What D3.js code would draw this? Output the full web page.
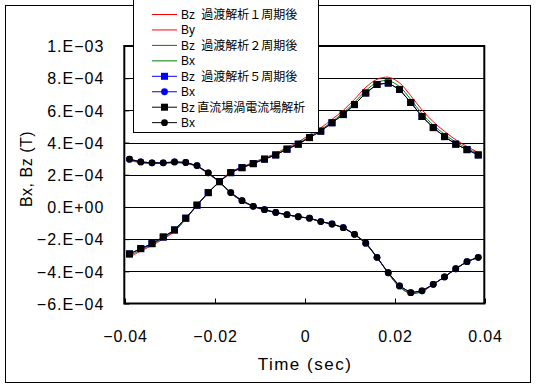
<!DOCTYPE html>
<html><head><meta charset="utf-8">
<script src="https://cdn.jsdelivr.net/npm/d3@7"></script>
<style>body{margin:0;background:#fff} svg{display:block}</style>
</head><body><svg id="c" width="536" height="389"></svg>
<script>
// ---- data ----
const time = [-0.039, -0.0365, -0.034, -0.0315, -0.029, -0.0265, -0.024, -0.0215, -0.019, -0.0165,
  -0.014, -0.0115, -0.009, -0.0065, -0.004, -0.0015, 0.001, 0.0035, 0.006, 0.0085,
  0.011, 0.0135, 0.016, 0.0185, 0.021, 0.0235, 0.026, 0.0285, 0.031, 0.0335, 0.036, 0.0385];

// 過渡解析1周期後 (red)
const bzTrans1 = [-3.11e-4, -2.74e-4, -2.39e-4, -1.99e-4, -1.52e-4, -0.75e-4, 0.09e-4, 0.90e-4, 1.57e-4, 2.18e-4,
  2.49e-4, 2.77e-4, 3.05e-4, 3.33e-4, 3.70e-4, 4.04e-4, 4.48e-4, 4.91e-4, 5.44e-4, 6.00e-4,
  6.69e-4, 7.43e-4, 7.93e-4, 8.06e-4, 7.71e-4, 6.91e-4, 6.03e-4, 5.29e-4, 4.70e-4, 4.17e-4, 3.76e-4, 3.38e-4];
const byTrans1 = [2.90e-4, 2.74e-4, 2.70e-4, 2.71e-4, 2.74e-4, 2.70e-4, 2.50e-4, 2.06e-4, 1.52e-4, 0.84e-4,
  0.36e-4, 0.02e-4, -0.19e-4, -0.36e-4, -0.50e-4, -0.62e-4, -0.71e-4, -0.92e-4, -1.07e-4, -1.30e-4,
  -1.70e-4, -2.24e-4, -3.13e-4, -4.12e-4, -4.98e-4, -5.38e-4, -5.26e-4, -4.81e-4, -4.35e-4, -3.84e-4, -3.40e-4, -3.13e-4];

// 過渡解析2周期後 (green)
const bzTrans2 = [-3.02e-4, -2.67e-4, -2.33e-4, -1.93e-4, -1.47e-4, -0.72e-4, 0.10e-4, 0.90e-4, 1.57e-4, 2.15e-4,
  2.46e-4, 2.72e-4, 3.00e-4, 3.27e-4, 3.63e-4, 3.95e-4, 4.38e-4, 4.79e-4, 5.31e-4, 5.85e-4,
  6.50e-4, 7.22e-4, 7.74e-4, 7.84e-4, 7.48e-4, 6.68e-4, 5.80e-4, 5.09e-4, 4.52e-4, 4.03e-4, 3.66e-4, 3.30e-4];
const bxTrans2 = [2.93e-4, 2.77e-4, 2.72e-4, 2.72e-4, 2.77e-4, 2.73e-4, 2.53e-4, 2.09e-4, 1.55e-4, 0.86e-4,
  0.37e-4, 0.03e-4, -0.18e-4, -0.35e-4, -0.49e-4, -0.61e-4, -0.70e-4, -0.91e-4, -1.06e-4, -1.29e-4,
  -1.70e-4, -2.24e-4, -3.13e-4, -4.11e-4, -4.95e-4, -5.36e-4, -5.24e-4, -4.81e-4, -4.35e-4, -3.84e-4, -3.40e-4, -3.13e-4];

// 過渡解析5周期後 (blue)
const bzTrans5 = [-2.92e-4, -2.59e-4, -2.28e-4, -1.87e-4, -1.43e-4, -0.70e-4, 0.11e-4, 0.89e-4, 1.57e-4, 2.13e-4,
  2.44e-4, 2.69e-4, 2.97e-4, 3.23e-4, 3.59e-4, 3.90e-4, 4.31e-4, 4.71e-4, 5.23e-4, 5.74e-4,
  6.36e-4, 7.08e-4, 7.61e-4, 7.70e-4, 7.30e-4, 6.49e-4, 5.62e-4, 4.93e-4, 4.37e-4, 3.90e-4, 3.56e-4, 3.23e-4];
const bxTrans5 = [2.97e-4, 2.80e-4, 2.74e-4, 2.74e-4, 2.80e-4, 2.76e-4, 2.57e-4, 2.12e-4, 1.57e-4, 0.89e-4,
  0.39e-4, 0.04e-4, -0.17e-4, -0.34e-4, -0.48e-4, -0.61e-4, -0.70e-4, -0.91e-4, -1.06e-4, -1.29e-4,
  -1.70e-4, -2.25e-4, -3.13e-4, -4.09e-4, -4.91e-4, -5.33e-4, -5.21e-4, -4.81e-4, -4.35e-4, -3.84e-4, -3.40e-4, -3.13e-4];

// 直流場渦電流場解析 (black)
const bzDC = [-2.92e-4, -2.59e-4, -2.28e-4, -1.87e-4, -1.43e-4, -0.70e-4, 0.11e-4, 0.89e-4, 1.57e-4, 2.13e-4,
  2.44e-4, 2.69e-4, 2.97e-4, 3.23e-4, 3.59e-4, 3.90e-4, 4.31e-4, 4.71e-4, 5.23e-4, 5.74e-4,
  6.36e-4, 7.08e-4, 7.61e-4, 7.70e-4, 7.30e-4, 6.49e-4, 5.62e-4, 4.93e-4, 4.37e-4, 3.90e-4, 3.56e-4, 3.23e-4];
const bxDC = [2.97e-4, 2.80e-4, 2.74e-4, 2.74e-4, 2.80e-4, 2.76e-4, 2.57e-4, 2.12e-4, 1.57e-4, 0.89e-4,
  0.39e-4, 0.04e-4, -0.17e-4, -0.34e-4, -0.48e-4, -0.61e-4, -0.70e-4, -0.91e-4, -1.06e-4, -1.29e-4,
  -1.70e-4, -2.25e-4, -3.13e-4, -4.09e-4, -4.91e-4, -5.33e-4, -5.21e-4, -4.81e-4, -4.35e-4, -3.84e-4, -3.40e-4, -3.13e-4];

const xTickValues = [-0.04, -0.02, 0, 0.02, 0.04];
const xTickLabels = ["-0.04", "-0.02", "0", "0.02", "0.04"];
const yTickValues = [-6e-4, -4e-4, -2e-4, 0, 2e-4, 4e-4, 6e-4, 8e-4, 1e-3];
const yTickLabels = ["-6.E-04", "-4.E-04", "-2.E-04", "0.E+00", "2.E-04", "4.E-04", "6.E-04", "8.E-04", "1.E-03"];
const xTitle = "Time (sec)";
const yTitle = "Bx, Bz (T)";

const legendComp = ["Bz", "By", "Bz", "Bx", "Bz", "Bx", "Bz", "Bx"];
const legendName = ["過渡解析１周期後", "", "過渡解析２周期後", "", "過渡解析５周期後", "", "直流場渦電流場解析", ""];

// ---- series definitions ----
const series = [
  {vals: bzTrans1, color: "#ff0000", marker: null, smooth: true},
  {vals: byTrans1, color: "#ff0000", marker: null, smooth: true},
  {vals: bzTrans2, color: "#008000", marker: null, smooth: true},
  {vals: bxTrans2, color: "#008000", marker: null, smooth: true},
  {vals: bzTrans5, color: "#0000ff", marker: "square", smooth: false},
  {vals: bxTrans5, color: "#0000ff", marker: "circle", smooth: false},
  {vals: bzDC, color: "#000000", marker: "square", smooth: false},
  {vals: bxDC, color: "#000000", marker: "circle", smooth: false}
];

const minus = s => s.replace(/-/g, "\u2212");

const svg = d3.select("#c");
svg.append("rect").attr("width", 536).attr("height", 389).attr("fill", "#fff");
// outer chart border
svg.append("rect").attr("x", 5.5).attr("y", 5.5).attr("width", 525).attr("height", 377)
  .attr("fill", "none").attr("stroke", "#000").attr("stroke-width", 1);

const x = d3.scaleLinear().domain([-0.04, 0.04]).range([125, 485]);
const y = d3.scaleLinear().domain([-6e-4, 1e-3]).range([303.5, 46]);

// gridlines
svg.append("g").selectAll("line").data(yTickValues.slice(1, -1)).join("line")
  .attr("x1", x(-0.04)).attr("x2", x(0.04))
  .attr("y1", d => Math.round(y(d)) + 0.5).attr("y2", d => Math.round(y(d)) + 0.5)
  .attr("stroke", "#000").attr("stroke-width", 1);

// axes
const font = "'Liberation Sans', Arial, sans-serif";
const xAxis = d3.axisBottom(x).tickValues(xTickValues)
  .tickFormat((d, i) => minus(xTickLabels[i])).tickSizeInner(-5).tickSizeOuter(0).tickPadding(27);
const gx = svg.append("g").attr("transform", `translate(0,${y(-6e-4)})`).call(xAxis);
gx.select(".domain").remove();
gx.selectAll("line").attr("stroke", "#000");
gx.selectAll("text").attr("font-family", font).attr("font-size", 16).attr("fill", "#000")
  .attr("letter-spacing", 0.8);

const yAxis = d3.axisLeft(y).tickValues(yTickValues)
  .tickFormat((d, i) => minus(yTickLabels[i])).tickSizeInner(-5).tickSizeOuter(0).tickPadding(20);
const gy = svg.append("g").attr("transform", `translate(${x(-0.04) - 0.7},0)`).call(yAxis);
gy.select(".domain").remove();
gy.selectAll("line").attr("stroke", "#000");
gy.selectAll("text").attr("font-family", font).attr("font-size", 16).attr("fill", "#000")
  .attr("letter-spacing", 1).attr("dy", "0.36em");

// series lines + markers
const plot = svg.append("g");
series.forEach(s => {
  const pts = time.map((t, i) => [t, s.vals[i]]);
  const line = d3.line().x(d => x(d[0])).y(d => y(d[1]))
    .curve(s.smooth ? d3.curveCatmullRom.alpha(0.5) : d3.curveLinear);
  plot.append("path").datum(pts).attr("d", line)
    .attr("fill", "none").attr("stroke", s.color).attr("stroke-width", 1);
  if (s.marker === "square") {
    plot.append("g").selectAll("rect").data(pts).join("rect")
      .attr("x", d => x(d[0]) - 3.5).attr("y", d => y(d[1]) - 3.5)
      .attr("width", 7).attr("height", 7).attr("fill", s.color);
  } else if (s.marker === "circle") {
    plot.append("g").selectAll("circle").data(pts).join("circle")
      .attr("cx", d => x(d[0])).attr("cy", d => y(d[1])).attr("r", 3.4).attr("fill", s.color);
  }
});

// plot frame
svg.append("rect").attr("x", 124.3).attr("y", 46).attr("width", 360).attr("height", 257.5)
  .attr("fill", "none").attr("stroke", "#000").attr("stroke-width", 2);

// axis titles
svg.append("text").attr("x", 305).attr("y", 370).attr("text-anchor", "middle")
  .attr("font-family", font).attr("font-size", 17).attr("letter-spacing", 1.5).text(xTitle);
svg.append("text").attr("transform", "translate(32,169) rotate(-90)").attr("text-anchor", "middle")
  .attr("font-family", font).attr("font-size", 16).attr("letter-spacing", 0.5).text(yTitle);

// legend
const lg = svg.append("g");
lg.append("rect").attr("x", 133.5).attr("y", -1.5).attr("width", 185).attr("height", 134)
  .attr("fill", "#fff").attr("stroke", "#000").attr("stroke-width", 1);
series.forEach((s, i) => {
  const cy = 14.5 + i * 15.45;
  const g = lg.append("g");
  g.append("line").attr("x1", 152).attr("x2", 177).attr("y1", cy).attr("y2", cy)
    .attr("stroke", s.color).attr("stroke-width", 1);
  if (s.marker === "square") {
    g.append("rect").attr("x", 164.5 - 3.5).attr("y", cy - 3.5).attr("width", 7).attr("height", 7).attr("fill", s.color);
  } else if (s.marker === "circle") {
    g.append("circle").attr("cx", 164.5).attr("cy", cy).attr("r", 3.4).attr("fill", s.color);
  }
  const t = g.append("text").attr("y", cy + 4.5).attr("font-size", 12).attr("fill", "#000");
  t.append("tspan").attr("x", 181).attr("font-family", font).text(legendComp[i]);
  if (legendName[i]) {
    t.append("tspan").attr("x", i === 6 ? 194.5 : 198.5).attr("font-family", "'Noto Sans CJK JP', sans-serif")
      .text(" " + legendName[i]);
  }
});
</script></body></html>
